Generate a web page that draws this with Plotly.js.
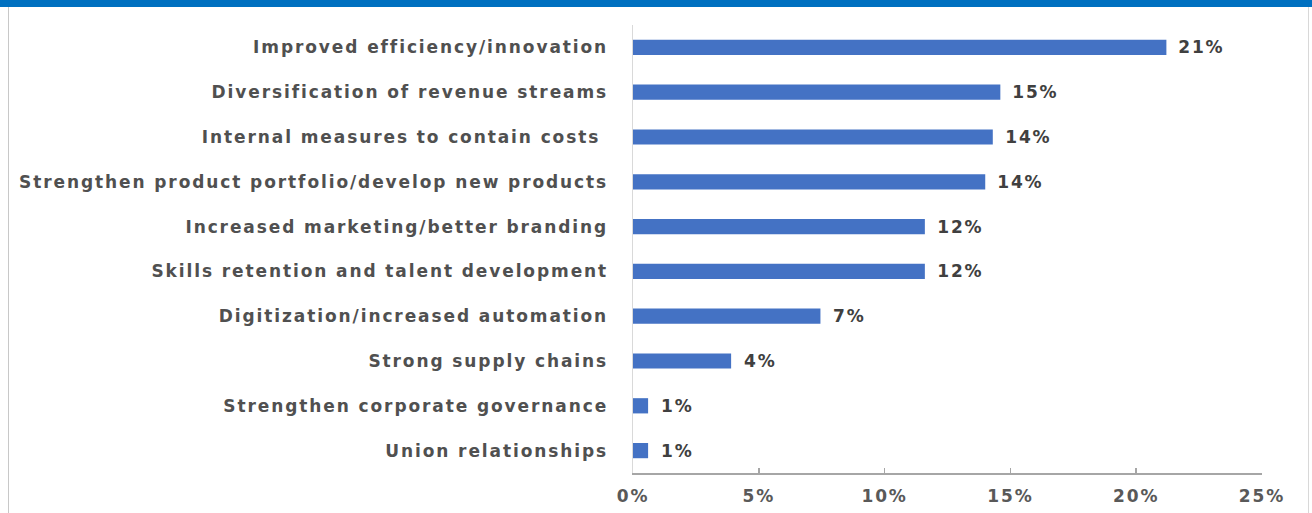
<!DOCTYPE html>
<html>
<head>
<meta charset="utf-8">
<script src="https://cdn.plot.ly/plotly-3.0.1.min.js"></script>
<style>
html,body{margin:0;padding:0;background:#fff;}
#wrap{position:relative;width:1312px;height:513px;overflow:hidden;}
#chart{position:absolute;left:0;top:0;width:1312px;height:513px;}
#chart text{letter-spacing:1.9px;}
.topbar{position:absolute;left:0;top:0;width:1312px;height:7px;background:#0070C0;z-index:5;}
.lb{position:absolute;left:8px;top:7px;width:1px;height:506px;background:#c8c8c8;z-index:5;}
.rb{position:absolute;left:1308px;top:7px;width:1px;height:506px;background:#d8d8d8;z-index:5;}
</style>
</head>
<body>
<div id="wrap">
<div id="chart"></div>
<div class="topbar"></div>
<div class="lb"></div>
<div class="rb"></div>
</div>
<script>
const categories = [
  "Improved efficiency/innovation",
  "Diversification of revenue streams",
  "Internal measures to contain costs ",
  "Strengthen product portfolio/develop new products",
  "Increased marketing/better branding",
  "Skills retention and talent development",
  "Digitization/increased automation",
  "Strong supply chains",
  "Strengthen corporate governance",
  "Union relationships"
];
const values = [21.2, 14.6, 14.3, 14.0, 11.6, 11.6, 7.45, 3.9, 0.6, 0.6];
const tickVals = [0, 5, 10, 15, 20, 25];
const tickText = ["0%", "5%", "10%", "15%", "20%", "25%"];

const labels = values.map(v => Math.round(v) + "%");
const fontFam = "DejaVu Sans, Verdana, sans-serif";

const trace = {
  type: "bar",
  orientation: "h",
  x: values,
  y: categories,
  marker: {color: "#4472C4"},
  width: 0.34,
  hoverinfo: "none"
};

const annotations = values.map((v, i) => ({
  x: v, y: categories[i], xref: "x", yref: "y",
  text: labels[i], showarrow: false, xanchor: "left", yanchor: "middle",
  xshift: 13,
  font: {family: fontFam, size: 17, color: "#404040", weight: "bold"}
}));

const layout = {
  width: 1312, height: 513,
  margin: {l: 633, r: 50, t: 25, b: 40, pad: 0},
  paper_bgcolor: "#fff", plot_bgcolor: "#fff",
  showlegend: false,
  xaxis: {
    range: [0, 25], tickvals: tickVals, ticktext: tickText,
    showgrid: false, zeroline: false,
    showline: true, linecolor: "#a6a6a6", linewidth: 1.5,
    ticks: "inside", ticklen: 5, tickcolor: "#a6a6a6", tickwidth: 1.5,
    ticklabelstandoff: 7,
    tickfont: {family: fontFam, size: 17, color: "#595959", weight: "bold"},
    fixedrange: true
  },
  yaxis: {
    autorange: "reversed", type: "category",
    showgrid: false, zeroline: false,
    showline: true, linecolor: "#d9d9d9", linewidth: 1.5,
    ticks: "", ticklabelstandoff: 20,
    tickfont: {family: fontFam, size: 17, color: "#505050", weight: "bold"},
    fixedrange: true
  },
  annotations: annotations
};

Plotly.newPlot("chart", [trace], layout, {displayModeBar: false, staticPlot: true});
</script>
</body>
</html>
